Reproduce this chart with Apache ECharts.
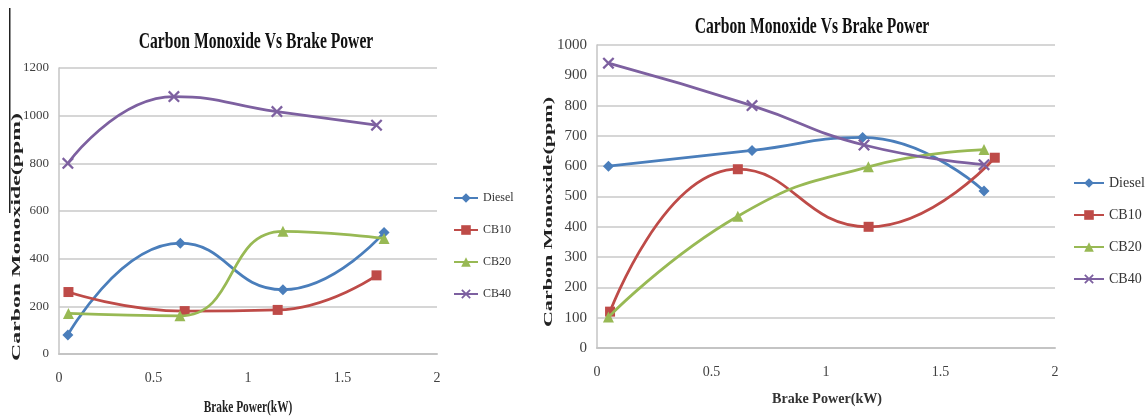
<!DOCTYPE html>
<html><head><meta charset="utf-8">
<script src="https://cdn.jsdelivr.net/npm/echarts@6/dist/echarts.min.js"></script>
<style>html,body{margin:0;padding:0;background:#fff;} #c{width:1145px;height:416px;}</style>
</head><body><div id="c"></div>
<script>
const seriesNames = ['Diesel', 'CB10', 'CB20', 'CB40'];
const colors = ['#4a7ebb', '#be4b48', '#98b954', '#7d60a0'];
const titleText = 'Carbon Monoxide Vs Brake Power';
const xName = 'Brake Power(kW)';
const yName = 'Carbon Monoxide(ppm)';

// Left chart values
const leftDieselX = [0.047, 0.642, 1.185, 1.72];
const leftDieselY = [80, 465, 270, 510];
const leftCB10X = [0.05, 0.665, 1.157, 1.68];
const leftCB10Y = [260, 180, 185, 330];
const leftCB20X = [0.05, 0.64, 1.185, 1.72];
const leftCB20Y = [170, 160, 515, 485];
const leftCB40X = [0.047, 0.608, 1.153, 1.68];
const leftCB40Y = [800, 1080, 1017, 960];

// Right chart values
const rightDieselX = [0.05, 0.677, 1.16, 1.69];
const rightDieselY = [600, 652, 695, 518];
const rightCB10X = [0.057, 0.615, 1.186, 1.737];
const rightCB10Y = [120, 590, 400, 628];
const rightCB20X = [0.05, 0.615, 1.185, 1.69];
const rightCB20Y = [102, 435, 598, 655];
const rightCB40X = [0.05, 0.677, 1.166, 1.69];
const rightCB40Y = [940, 800, 670, 605];

const xPath = 'path://M0,1.6L1.6,0L6,4.4L10.4,0L12,1.6L7.6,6L12,10.4L10.4,12L6,7.6L1.6,12L0,10.4L4.4,6Z';
const symbols = ['diamond', 'rect', 'triangle', xPath];
const symbolSizes = [11, 10, 11, 12];

function pairs(xs, ys) { return xs.map((x, i) => [x, ys[i]]); }

const leftData = [pairs(leftDieselX, leftDieselY), pairs(leftCB10X, leftCB10Y), pairs(leftCB20X, leftCB20Y), pairs(leftCB40X, leftCB40Y)];
const rightData = [pairs(rightDieselX, rightDieselY), pairs(rightCB10X, rightCB10Y), pairs(rightCB20X, rightCB20Y), pairs(rightCB40X, rightCB40Y)];

const serif = 'Liberation Serif';

function makeSeries(dataSets, axisIdx) {
  return dataSets.map((d, i) => ({
    name: seriesNames[i],
    type: 'line',
    xAxisIndex: axisIdx,
    yAxisIndex: axisIdx,
    data: d,
    smooth: 0.5,
    symbol: symbols[i],
    symbolSize: symbolSizes[i],
    showAllSymbol: true,
    lineStyle: { width: 2.75, color: colors[i] },
    itemStyle: { color: colors[i] },
    z: 3 + i
  }));
}

function xAxisCfg(idx, fs) {
  return {
    type: 'value', gridIndex: idx, min: 0, max: 2, interval: 0.5,
    axisLine: { show: true, lineStyle: { color: '#c4c4c4', width: 2 } },
    axisTick: { show: false },
    splitLine: { show: false },
    axisLabel: { margin: 17, fontFamily: serif, fontSize: fs, color: '#404040', formatter: v => String(v) }
  };
}
function yAxisCfg(idx, max, interval, fs) {
  return {
    type: 'value', gridIndex: idx, min: 0, max: max, interval: interval,
    axisLine: { show: true, lineStyle: { color: '#c4c4c4', width: 1.5 } },
    axisTick: { show: false },
    splitLine: { show: true, lineStyle: { color: '#d6d6d6', width: 2 } },
    axisLabel: { margin: 10, fontFamily: serif, fontSize: fs, color: '#404040', formatter: v => String(v) }
  };
}

const option = {
  backgroundColor: '#ffffff',
  animation: false,
  grid: [
    { left: 59, top: 68, width: 378, height: 286 },
    { left: 597, top: 45, width: 458, height: 303 }
  ],
  xAxis: [xAxisCfg(0, 14), xAxisCfg(1, 14)],
  yAxis: [yAxisCfg(0, 1200, 200, 13), yAxisCfg(1, 1000, 100, 15)],
  legend: [
    {
      orient: 'vertical', left: 448, top: 187, itemWidth: 24, itemHeight: 12, itemGap: 20,
      data: seriesNames,
      textStyle: { fontFamily: serif, fontSize: 12, color: '#333' }
    },
    {
      orient: 'vertical', left: 1068, top: 171, itemWidth: 30, itemHeight: 12, itemGap: 18,
      data: seriesNames,
      textStyle: { fontFamily: serif, fontSize: 14, color: '#333' }
    }
  ],
  graphic: [
    { type: 'rect', shape: { x: 9, y: 8, width: 1.5, height: 205 }, style: { fill: '#222' } },
    { type: 'text', x: 256, y: 42, scaleX: 0.68,
      style: { text: titleText, font: 'bold 23px "Liberation Serif"', fill: '#111', align: 'center', verticalAlign: 'middle' } },
    { type: 'text', x: 812, y: 27, scaleX: 0.68,
      style: { text: titleText, font: 'bold 23px "Liberation Serif"', fill: '#111', align: 'center', verticalAlign: 'middle' } },
    { type: 'text', x: 17, y: 237, rotation: Math.PI / 2, scaleX: 1.83,
      style: { text: yName, font: 'bold 13px "Liberation Serif"', fill: '#222', align: 'center', verticalAlign: 'middle' } },
    { type: 'text', x: 549, y: 212, rotation: Math.PI / 2, scaleX: 1.7,
      style: { text: yName, font: 'bold 13px "Liberation Serif"', fill: '#222', align: 'center', verticalAlign: 'middle' } },
    { type: 'text', x: 248, y: 408, scaleX: 0.71,
      style: { text: xName, font: 'bold 16px "Liberation Serif"', fill: '#222', align: 'center', verticalAlign: 'middle' } },
    { type: 'text', x: 827, y: 399, scaleX: 0.94,
      style: { text: xName, font: 'bold 15px "Liberation Serif"', fill: '#333', align: 'center', verticalAlign: 'middle' } }
  ],
  series: makeSeries(leftData, 0).concat(makeSeries(rightData, 1))
};

const chart = echarts.init(document.getElementById('c'), null, { renderer: 'canvas' });
chart.setOption(option);
</script>
</body></html>
